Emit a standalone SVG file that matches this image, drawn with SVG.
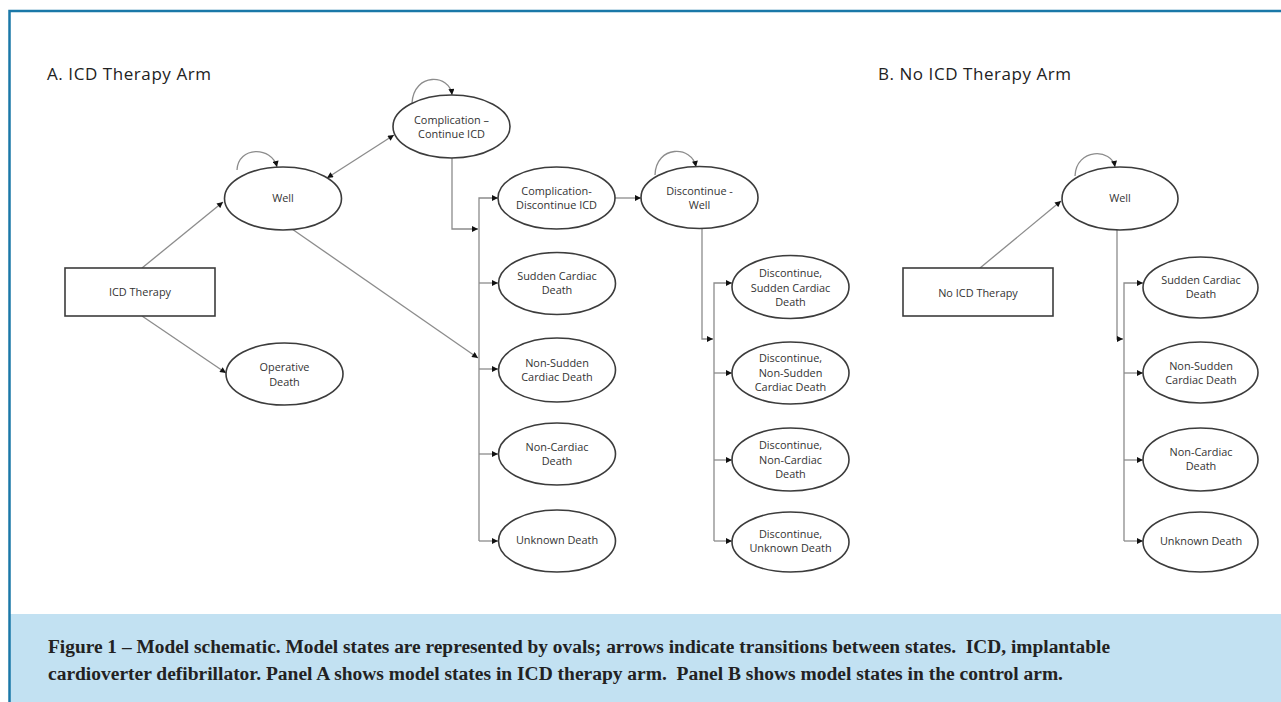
<svg xmlns="http://www.w3.org/2000/svg" width="1281" height="702" viewBox="0 0 1281 702">
<style>
.n ellipse,.n rect{fill:#fff;stroke:#3c3c3c;stroke-width:1.6}
.n text{font-family:"Open Sans","Liberation Sans",sans-serif;font-size:10.9px;fill:#333;text-anchor:middle}
.c path,.c line{fill:none;stroke:#8c8c8c;stroke-width:1.3}
.title{font-family:"Open Sans","Liberation Sans",sans-serif;font-size:17px;fill:#222}
.cap{font-family:"Liberation Serif","DejaVu Serif",serif;font-weight:bold;font-size:18.5px;fill:#222;white-space:pre}
</style>
<defs>
<marker id="ah" viewBox="0 0 10 10" refX="10" refY="5" markerWidth="7" markerHeight="6" orient="auto-start-reverse" markerUnits="userSpaceOnUse"><path d="M0,0 L10,5 L0,10 z" fill="#111"/></marker>
</defs>
<rect x="0" y="0" width="1281" height="702" fill="#fff"/>
<rect x="10" y="614" width="1271" height="88" fill="#c2e1f2"/>
<path d="M9.5,702 V11 H1281" fill="none" stroke="#1a78a8" stroke-width="2.5"/>

<text class="title" x="47" y="80" textLength="164">A. ICD Therapy Arm</text>
<text class="title" x="878" y="80" textLength="193">B. No ICD Therapy Arm</text>

<g class="c" id="connectors">
<line x1="142" y1="268" x2="223" y2="202" marker-end="url(#ah)"/>
<line x1="142" y1="316" x2="226" y2="373" marker-end="url(#ah)"/>
<line x1="327" y1="178" x2="394" y2="135" marker-start="url(#ah)" marker-end="url(#ah)"/>
<path d="M237,170 C238,146 272,146 277,167" marker-end="url(#ah)"/>
<path d="M412,103 C414,72 450,74 452,95" marker-end="url(#ah)"/>
<line x1="292" y1="229" x2="478" y2="358" marker-end="url(#ah)"/>
<path d="M452,158 V229 H478" marker-end="url(#ah)"/>
<path d="M479,541 V198 H498" marker-end="url(#ah)"/>
<path d="M479,283 H498" marker-end="url(#ah)"/>
<path d="M479,369 H498" marker-end="url(#ah)"/>
<path d="M479,454 H498" marker-end="url(#ah)"/>
<path d="M479,541 H498" marker-end="url(#ah)"/>
<path d="M615,198 H641" marker-end="url(#ah)"/>
<path d="M655,175 C656,145 692,145 696,167" marker-end="url(#ah)"/>
<path d="M702,228 V339 H713" marker-end="url(#ah)"/>
<path d="M714,541 V283 H732" marker-end="url(#ah)"/>
<path d="M714,373 H732" marker-end="url(#ah)"/>
<path d="M714,460 H732" marker-end="url(#ah)"/>
<path d="M714,541 H732" marker-end="url(#ah)"/>
<line x1="980" y1="268" x2="1061" y2="201" marker-end="url(#ah)"/>
<path d="M1075,176 C1076,148 1112,148 1115,167" marker-end="url(#ah)"/>
<path d="M1117,230 V339 H1123" marker-end="url(#ah)"/>
<path d="M1124,541 V283 H1143" marker-end="url(#ah)"/>
<path d="M1124,373 H1143" marker-end="url(#ah)"/>
<path d="M1124,460 H1143" marker-end="url(#ah)"/>
<path d="M1124,541 H1143" marker-end="url(#ah)"/>
</g>

<g class="n" id="icd-therapy"><rect x="65" y="268" width="150" height="48"/><text x="140" y="296">ICD Therapy</text></g>
<g class="n" id="well-a"><ellipse cx="283" cy="198.5" rx="58.5" ry="31.5"/><text x="283" y="202">Well</text></g>
<g class="n" id="operative-death"><ellipse cx="284.5" cy="374" rx="58.5" ry="31"/><text x="284.5" y="371">Operative</text><text x="284.5" y="386">Death</text></g>
<g class="n" id="comp-continue"><ellipse cx="451.5" cy="126.5" rx="58.5" ry="31.5"/><text x="451.5" y="124">Complication –</text><text x="451.5" y="138">Continue ICD</text></g>
<g class="n" id="comp-discontinue"><ellipse cx="556.5" cy="198" rx="58.5" ry="31"/><text x="556.5" y="195">Complication-</text><text x="556.5" y="209">Discontinue ICD</text></g>
<g class="n" id="scd-a"><ellipse cx="557" cy="283.5" rx="58.5" ry="31"/><text x="557" y="280">Sudden Cardiac</text><text x="557" y="294">Death</text></g>
<g class="n" id="nscd-a"><ellipse cx="557" cy="370" rx="58.5" ry="32"/><text x="557" y="367">Non-Sudden</text><text x="557" y="381">Cardiac Death</text></g>
<g class="n" id="ncd-a"><ellipse cx="557" cy="454" rx="58.5" ry="31"/><text x="557" y="451">Non-Cardiac</text><text x="557" y="465">Death</text></g>
<g class="n" id="ud-a"><ellipse cx="557" cy="541" rx="58.5" ry="31"/><text x="557" y="544">Unknown Death</text></g>
<g class="n" id="disc-well"><ellipse cx="699.5" cy="197.5" rx="58.5" ry="31"/><text x="699.5" y="195">Discontinue -</text><text x="699.5" y="209">Well</text></g>
<g class="n" id="disc-scd"><ellipse cx="790.5" cy="287" rx="58.5" ry="31.5"/><text x="790.5" y="277">Discontinue,</text><text x="790.5" y="292">Sudden Cardiac</text><text x="790.5" y="306">Death</text></g>
<g class="n" id="disc-nscd"><ellipse cx="790.5" cy="373" rx="58.5" ry="31"/><text x="790.5" y="362">Discontinue,</text><text x="790.5" y="377">Non-Sudden</text><text x="790.5" y="391">Cardiac Death</text></g>
<g class="n" id="disc-ncd"><ellipse cx="790.5" cy="459.5" rx="58.5" ry="31.5"/><text x="790.5" y="449">Discontinue,</text><text x="790.5" y="464">Non-Cardiac</text><text x="790.5" y="478">Death</text></g>
<g class="n" id="disc-ud"><ellipse cx="790.5" cy="542" rx="58.5" ry="30"/><text x="790.5" y="538">Discontinue,</text><text x="790.5" y="552">Unknown Death</text></g>

<g class="n" id="no-icd-therapy"><rect x="903" y="268" width="150" height="48"/><text x="978" y="297">No ICD Therapy</text></g>
<g class="n" id="well-b"><ellipse cx="1120" cy="198.5" rx="58" ry="31.5"/><text x="1120" y="202">Well</text></g>
<g class="n" id="scd-b"><ellipse cx="1200.5" cy="287.5" rx="57.5" ry="30.5"/><text x="1201" y="284">Sudden Cardiac</text><text x="1201" y="298">Death</text></g>
<g class="n" id="nscd-b"><ellipse cx="1200.5" cy="372.5" rx="57.5" ry="30.5"/><text x="1201" y="370">Non-Sudden</text><text x="1201" y="384">Cardiac Death</text></g>
<g class="n" id="ncd-b"><ellipse cx="1200.5" cy="459.5" rx="57.5" ry="31.5"/><text x="1201" y="456">Non-Cardiac</text><text x="1201" y="470">Death</text></g>
<g class="n" id="ud-b"><ellipse cx="1200.5" cy="542" rx="57.5" ry="30"/><text x="1201" y="545">Unknown Death</text></g>

<text class="cap" x="48" y="653" textLength="1062" lengthAdjust="spacingAndGlyphs">Figure 1 – Model schematic. Model states are represented by ovals; arrows indicate transitions between states.  ICD, implantable</text>
<text class="cap" x="48" y="680" textLength="1015" lengthAdjust="spacingAndGlyphs">cardioverter defibrillator. Panel A shows model states in ICD therapy arm.  Panel B shows model states in the control arm.</text>
</svg>
